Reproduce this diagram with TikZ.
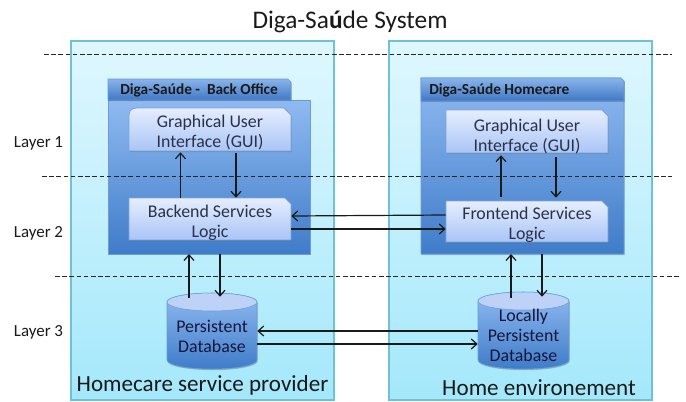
\documentclass[tikz,border=0pt]{standalone}
\usepackage{fontspec}
\setmainfont{Carlito}
\usetikzlibrary{calc,arrows.meta,shadows}
\definecolor{txt}{HTML}{2B3148}
\definecolor{blk}{HTML}{1A1A1A}
\tikzset{
  x=0.75pt,y=-0.75pt,
  outerbox/.style={draw=outerline,line width=0.9pt,top color=outertop,bottom color=outerbot},
  bodyfill/.style={top color=bodytop,bottom color=bodybot,draw=bodyline,line width=0.5pt,softshadow},
  tabfill/.style={top color=tabtop,bottom color=tabbot,draw=tabline,line width=0.5pt,softshadow},
  innerfill/.style={top color=innertop,bottom color=innerbot,draw=innerline,line width=0.6pt,softshadow},
  softshadow/.style={drop shadow={shadow xshift=0.4pt,shadow yshift=-0.9pt,opacity=0.35,fill=black!70}},
  boxtext/.style={inner sep=0pt,align=center,text=txt,font=\fontsize{13.4}{15}\selectfont},
  tabtext/.style={inner sep=0pt,anchor=west,text=blk,font=\fontsize{11.5}{13}\bfseries\selectfont},
  layertext/.style={inner sep=0pt,text=blk,font=\fontsize{12.7}{14}\selectfont},
  placetext/.style={inner sep=0pt,text=blk,font=\fontsize{17.3}{20}\selectfont},
  midline/.style={dashed,dash pattern=on 3.4pt off 2pt,line width=0.75pt,draw=black!85},
  arr/.style={-{Straight Barb[length=4.2pt,width=7.5pt,line width=0.9pt]},line width=0.9pt,draw=blk},
}
\definecolor{outertop}{HTML}{DFF7FE}
\definecolor{outerbot}{HTML}{A4E8FB}
\definecolor{outerline}{HTML}{6FC2D3}
\definecolor{bodytop}{HTML}{90BAF1}
\definecolor{bodybot}{HTML}{3F7CC9}
\definecolor{bodyline}{HTML}{6D9BD8}
\definecolor{tabtop}{HTML}{8AB4EA}
\definecolor{tabbot}{HTML}{3F78C6}
\definecolor{tabline}{HTML}{6A9AD8}
\definecolor{innertop}{HTML}{E6EEFE}
\definecolor{innerbot}{HTML}{A9C4F6}
\definecolor{innerline}{HTML}{7FA3D8}
\definecolor{lidcol}{HTML}{BDD2F6}
\newcommand{\dbdraw}[4]{% left, right, top, bottom
  \pgfmathsetmacro{\dbc}{(#1+#2)/2}
  \pgfmathsetmacro{\dbk}{(#2-#1)*0.275}
  \shade[top color=bodytop,bottom color=bodybot,draw=bodyline,line width=0.4pt,softshadow]
    (#1,#3+9) -- (#1,#4-9) .. controls (#1,#4-4) and (\dbc-\dbk,#4) .. (\dbc,#4)
    .. controls (\dbc+\dbk,#4) and (#2,#4-4) .. (#2,#4-9) -- (#2,#3+9)
    .. controls (#2,#3+4) and (\dbc+\dbk,#3) .. (\dbc,#3)
    .. controls (\dbc-\dbk,#3) and (#1,#3+4) .. (#1,#3+9) -- cycle;
  \fill[lidcol,draw=bodyline,line width=0.4pt]
    (#1,#3+9) .. controls (#1,#3+4) and (\dbc-\dbk,#3) .. (\dbc,#3)
    .. controls (\dbc+\dbk,#3) and (#2,#3+4) .. (#2,#3+9)
    .. controls (#2,#3+14) and (\dbc+\dbk,#3+18) .. (\dbc,#3+18)
    .. controls (\dbc-\dbk,#3+18) and (#1,#3+14) .. (#1,#3+9) -- cycle;
}
\begin{document}
\begin{tikzpicture}
\useasboundingbox (0,0) rectangle (686,401);
% title
\node[inner sep=0pt,text=blk,font=\fontsize{19}{22}\selectfont] (title) at (350,22) {Diga-Sa\textbf{ú}de System};
% provider areas
\shade[outerbox] (71,41) rectangle (334,400);
\shade[outerbox] (389,41) rectangle (652,400);
% left group
\shade[bodyfill] (108,100) rectangle (310,254);
\shade[tabfill] (108,79) -- (288,79) -- (291,82) -- (291,100) -- (108,100) -- cycle;
\node[tabtext] (tabL) at (120,90.5) {Diga-Saúde -\ \ Back Office};
% right group
\shade[bodyfill] (421,78) -- (621,78) -- (624,81) -- (624,254) -- (421,254) -- cycle;
\shade[tabfill] (421,78) -- (621,78) -- (624,81) -- (624,101) -- (421,101) -- cycle;
\node[tabtext] (tabR) at (429,90.5) {Diga-Saúde Homecare};
% inner boxes
\shade[innerfill] (129,116) .. controls (129,111) and (131,108) .. (137,108) -- (284,108) -- (291,115) -- (291,151) -- (129,151) -- cycle;
\node[boxtext,minimum width=121.5pt,minimum height=27.75pt] (guiL) at (210,132.5) {Graphical User\\Interface (GUI)};
\shade[innerfill] (129,198) -- (285,198) -- (291,204) -- (291,240) -- (129,240) -- cycle;
\node[boxtext,minimum width=121.5pt,minimum height=37.5pt] (logicL) at (210,223) {Backend Services\\Logic};
\shade[innerfill] (446,110) -- (602,110) -- (608,116) -- (608,153) -- (446,153) -- cycle;
\node[boxtext,minimum width=121.5pt,minimum height=24.75pt] (guiR) at (527,136.5) {Graphical User\\Interface (GUI)};
\shade[innerfill] (446,201) -- (602,201) -- (608,207) -- (608,242) -- (446,242) -- cycle;
\node[boxtext,minimum width=121.5pt,minimum height=36pt] (logicR) at (527,225) {Frontend Services\\Logic};
% databases
\dbdraw{167}{257}{293}{369}
\node[boxtext,text=blk!85!blue,minimum width=67.5pt,minimum height=66pt] (dbL) at (212,336.5) {Persistent\\Database};
\dbdraw{478}{569}{292}{369}
\node[boxtext,text=blk!85!blue,minimum width=68.25pt,minimum height=65.25pt] (dbR) at (523.5,335.5) {Locally\\Persistent\\Database};
% lower edge of the group bodies, for the connectors
\coordinate (bodyL) at (189,254);
\coordinate (bodyLb) at (220,254);
\coordinate (bodyR) at (511,254);
\coordinate (bodyRb) at (542,254);
% dashed layer lines
\coordinate (d1a) at (44,54);  \coordinate (d1b) at (672,54);
\coordinate (d2a) at (42,176); \coordinate (d2b) at (672,176);
\coordinate (d3a) at (55,276); \coordinate (d3b) at (679,276);
\draw[midline] (d1a) -- (d1b);
\draw[midline] (d2a) -- (d2b);
\draw[midline] (d3a) -- (d3b);
% connectors
\draw[arr] ($(logicL.north)+(-29.5,0)$) -- ($(guiL.south)+(-29.5,1)$);
\draw[arr] ($(guiL.south)+(26,2)$) -- ($(logicL.north)+(26,0)$);
\draw[arr] ($(logicR.north)+(-26,-4)$) -- ($(guiR.south)+(-26,1)$);
\draw[arr] ($(guiR.south)+(29,3)$) -- ($(logicR.north)+(29,-3)$);
\draw[arr] ($(logicR.west)+(0,-10)$) -- ($(logicL.east)+(0,-7)$);
\draw[arr] ($(logicL.east)+(0,6)$) -- ($(logicR.west)+(0,4)$);
\draw[arr] ($(dbL.north -| bodyL)+(0,5.5)$) -- (bodyL);
\draw[arr] (bodyLb) -- ($(dbL.north -| bodyLb)+(0,4.5)$);
\draw[arr] ($(dbR.north -| bodyR)+(0,6)$) -- (bodyR);
\draw[arr] (bodyRb) -- ($(dbR.north -| bodyRb)+(0,5)$);
\draw[arr] ($(dbR.west)+(0,-4.5)$) -- ($(dbL.east)+(0,-5.5)$);
\draw[arr] ($(dbL.east)+(0,7.5)$) -- ($(dbR.west)+(0,8.5)$);
% labels
\node[layertext] (l1) at (38.5,143) {Layer 1};
\node[layertext] (l2) at (38.5,233) {Layer 2};
\node[layertext] (l3) at (38.5,332) {Layer 3};
\node[placetext] (pL) at (202.5,385.5) {Homecare service provider};
\node[placetext] (pR) at (539,387.5) {Home environement};
\end{tikzpicture}
\end{document}
